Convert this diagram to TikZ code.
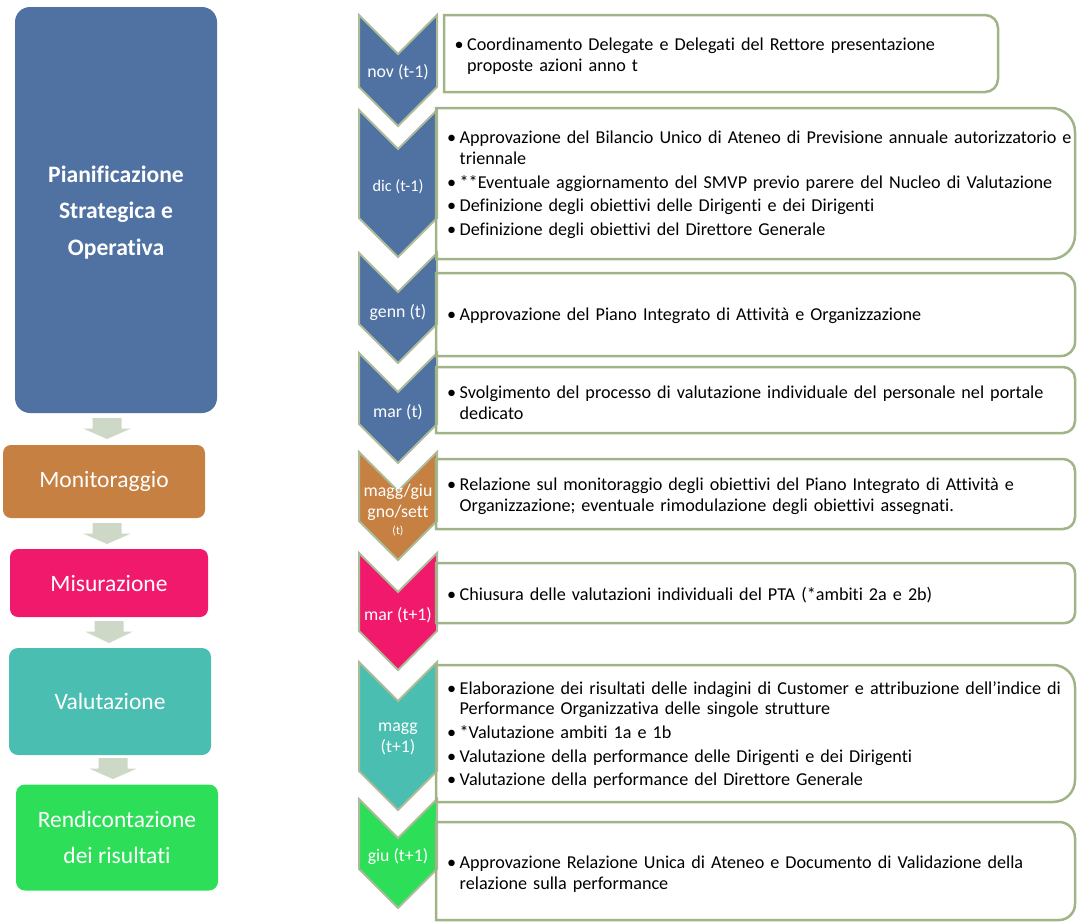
\documentclass[tikz,border=0pt]{standalone}
\usepackage{fontspec}
\setmainfont{Carlito}[Ligatures=CommonOff]
\definecolor{cblue}{RGB}{79,114,163}
\definecolor{corange}{RGB}{197,128,66}
\definecolor{cpink}{RGB}{240,25,108}
\definecolor{cteal}{RGB}{75,190,178}
\definecolor{cgreen}{RGB}{45,222,88}
\definecolor{arrowfill}{RGB}{206,216,198}
\definecolor{boxline}{RGB}{160,180,136}
\definecolor{chevline}{RGB}{172,188,152}
\newcommand\chevron[3]{%
  \draw[chev, fill=#3] (359,-#1) -- (398,{-#1-39}) -- (437,-#1) -- (437,{-#2+39}) -- (398,-#2) -- (359,{-#2+39}) -- cycle;}
\newcommand\tbox[5]{%
  \draw[tline] (#1,-#2) -- ({#3-#5},-#2) arc[start angle=90,end angle=0,radius=#5] -- (#3,{-#4+#5}) arc[start angle=0,end angle=-90,radius=#5] -- (#1,-#4) -- cycle;}
\newcommand\blockarrow[3]{% centre x, top, tip
  \fill[arrowfill] ({#1-14.5},-#2) -- ({#1+14.5},-#2) -- ({#1+14.5},{-#2-10.5}) -- ({#1+24},{-#2-10.5}) -- (#1,-#3) -- ({#1-24},{-#2-10.5}) -- ({#1-14.5},{-#2-10.5}) -- cycle;}
\newcommand\bitem[1]{\par\noindent\hangindent=11.5pt\hangafter=1\makebox[11.5pt][l]{\hspace{-1.2pt}•}#1\par}
\begin{document}
\begin{tikzpicture}[x=1pt,y=1pt,
  chev/.style={draw=chevline, line width=2pt, line join=miter},
  tline/.style={draw=boxline, line width=2.5pt},
  lbox/.style={inner sep=0pt, text=white, align=center},
  ltext/.style={font=\fontsize{23.5}{36.5}\selectfont},
  clabel/.style={inner sep=0pt, text=white, font=\fontsize{17.8}{20.5}\selectfont, align=center},
  btext/.style={inner sep=0pt, anchor=west, text width=660pt, align=left,
    font=\fontsize{18.15}{20.7}\selectfont\setlength{\parskip}{3pt}}]
\useasboundingbox (0,0) rectangle (1078,-922);
% left column
\node[lbox, fill=cblue, rounded corners=15pt, minimum width=202pt, minimum height=406pt] (plan) at (116,-210) {};
\node[lbox, font=\fontsize{23.6}{36.5}\selectfont\bfseries] (plantxt) at (116,-212.5) {Pianificazione\\Strategica e\\Operativa};
\node[lbox, ltext, fill=corange, rounded corners=8pt, minimum width=202pt, minimum height=73pt] (mon) at (104,-481.5) {Monitoraggio};
\node[lbox, ltext, fill=cpink, rounded corners=8pt, minimum width=198pt, minimum height=68pt] (mis) at (109,-583) {Misurazione};
\node[lbox, ltext, fill=cteal, rounded corners=9pt, minimum width=202pt, minimum height=107pt] (val) at (110,-701.5) {Valutazione};
\node[lbox, ltext, fill=cgreen, rounded corners=9pt, minimum width=202pt, minimum height=106pt] (ren) at (117,-837.5) {Rendicontazione\\dei risultati};
\blockarrow{107}{418}{439}
\blockarrow{107}{523}{544}
\blockarrow{109}{621}{643}
\blockarrow{113}{758}{779}
% chevrons
\chevron{15}{126}{cblue}
\chevron{110}{257}{cblue}
\chevron{253}{363}{cblue}
\chevron{353}{463}{cblue}
\chevron{452}{560}{corange}
\chevron{553}{670}{cpink}
\chevron{662}{810}{cteal}
\chevron{799}{908}{cgreen}
\node[clabel] (c1) at (398,-72.5) {nov (t-1)};
\node[clabel, font=\fontsize{16.3}{20}\selectfont] (c2) at (398,-186.5) {dic (t-1)};
\node[clabel] (c3) at (398,-313) {genn (t)};
\node[clabel] (c4) at (398,-412) {mar (t)};
\node[clabel] (c5a) at (398,-491.5) {magg/giu};
\node[clabel] (c5b) at (398,-512.5) {gno/sett};
\node[clabel, font=\fontsize{11.7}{14}\selectfont] (c5c) at (398,-531) {(t)};
\node[clabel] (c6) at (398,-615) {mar (t+1)};
\node[clabel] (c7) at (398,-739) {magg\\(t+1)};
\node[clabel] (c8) at (398,-857) {giu (t+1)};
% text boxes
\tbox{444}{15}{998}{92}{13}
\tbox{436}{108}{1075}{259}{24}
\tbox{436}{273}{1075}{356}{14}
\tbox{436}{367}{1075}{433}{12}
\tbox{436}{459}{1075}{529}{12}
\tbox{436}{563}{1075}{623}{10}
\tbox{436}{665}{1075}{802}{22}
\tbox{436}{822}{1075}{920}{16}
\node[btext] (t1) at (455.5,-50.5) {\bitem{Coordinamento Delegate e Delegati del Rettore presentazione\newline proposte azioni anno t}};
\node[btext] (t2) at (448,-179.5) {\bitem{Approvazione del Bilancio Unico di Ateneo di Previsione annuale autorizzatorio e\newline triennale}\bitem{**Eventuale aggiornamento del SMVP previo parere del Nucleo di Valutazione}\bitem{Definizione degli obiettivi delle Dirigenti e dei Dirigenti}\bitem{Definizione degli obiettivi del Direttore Generale}};
\node[btext] (t3) at (448,-310.5) {\bitem{Approvazione del Piano Integrato di Attività e Organizzazione}};
\node[btext] (t4) at (448,-397) {\bitem{Svolgimento del processo di valutazione individuale del personale nel portale\newline dedicato}};
\node[btext] (t5) at (448,-491) {\bitem{Relazione sul monitoraggio degli obiettivi del Piano Integrato di Attività e\newline Organizzazione; eventuale rimodulazione degli obiettivi assegnati.}};
\node[btext] (t6) at (448,-589.5) {\bitem{Chiusura delle valutazioni individuali del PTA (*ambiti 2a e 2b)}};
\node[btext] (t7) at (448,-729.5) {\bitem{Elaborazione dei risultati delle indagini di Customer e attribuzione dell’indice di\newline Performance Organizzativa delle singole strutture}\bitem{*Valutazione ambiti 1a e 1b}\bitem{Valutazione della performance delle Dirigenti e dei Dirigenti}\bitem{Valutazione della performance del Direttore Generale}};
\node[btext] (t8) at (448,-868.5) {\bitem{Approvazione Relazione Unica di Ateneo e Documento di Validazione della\newline relazione sulla performance}};
\end{tikzpicture}
\end{document}
